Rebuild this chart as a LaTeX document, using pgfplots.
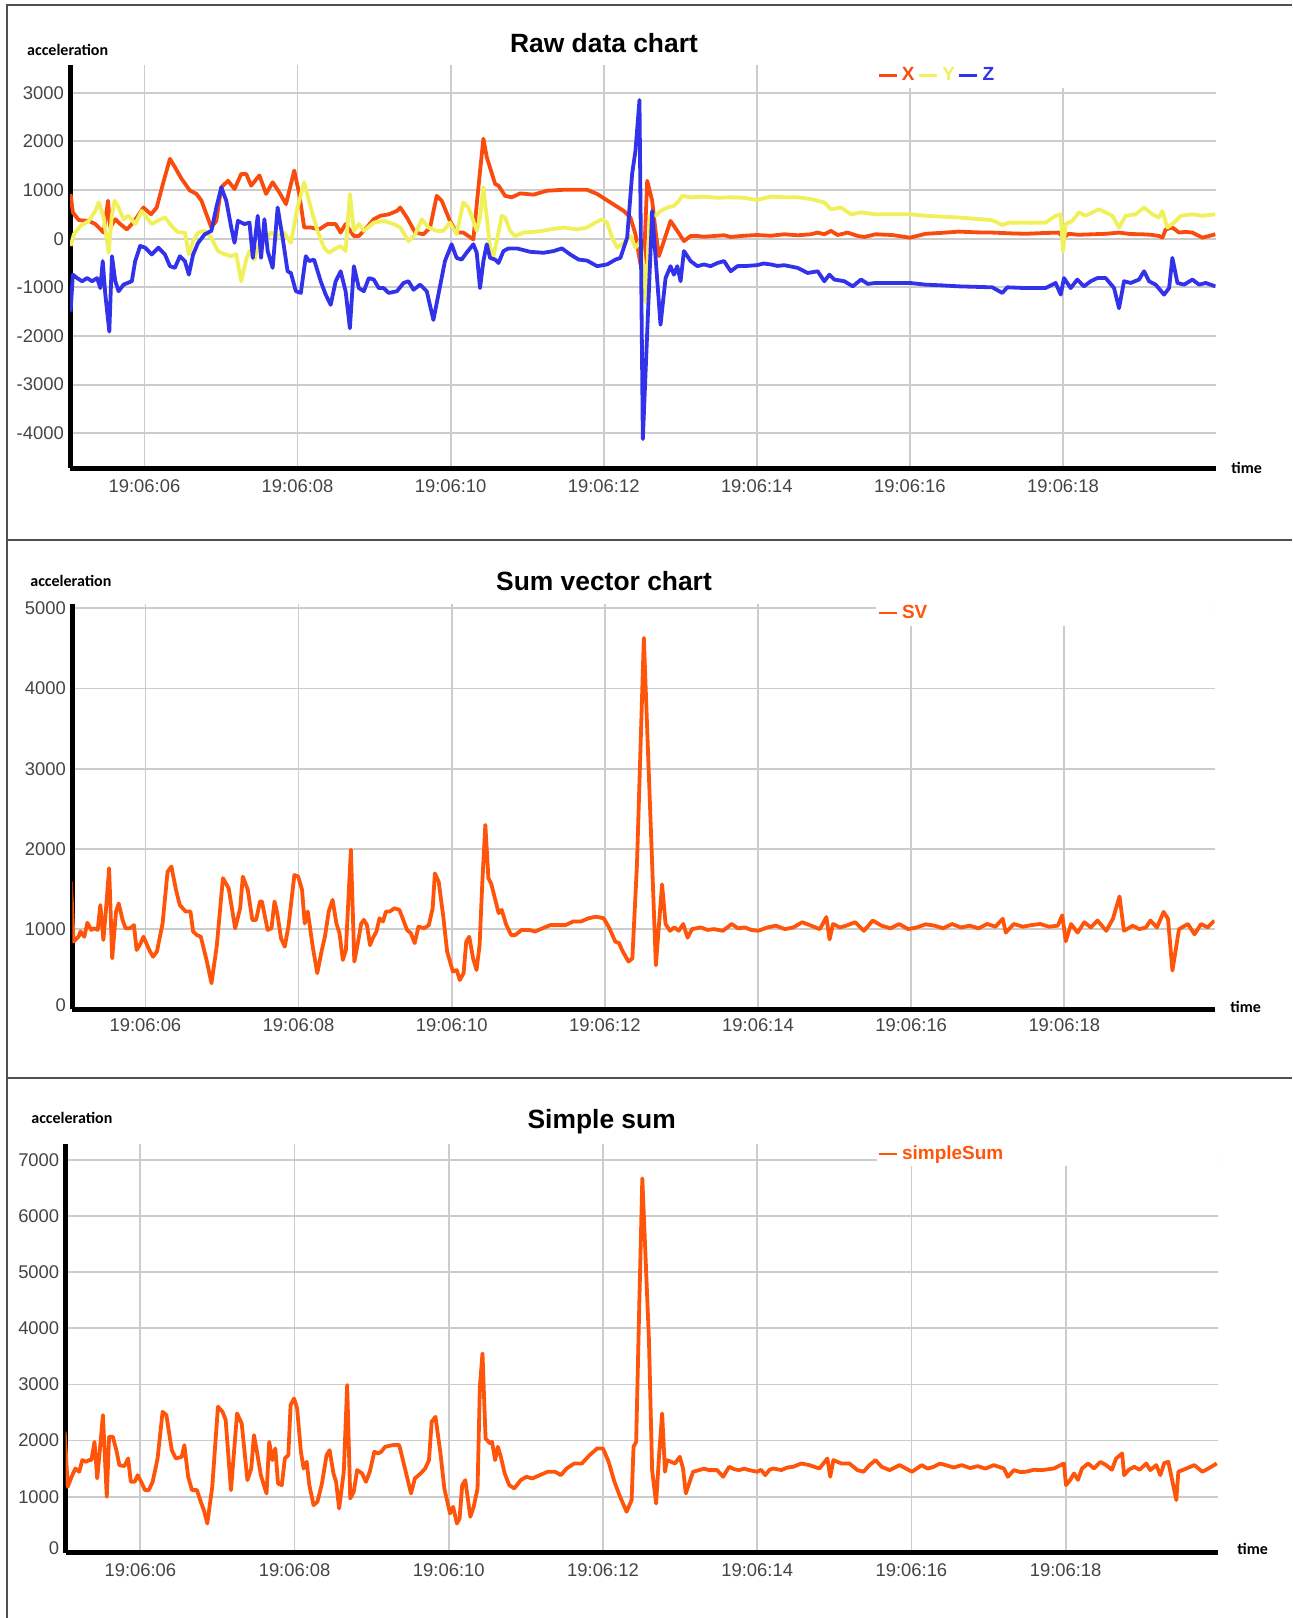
\documentclass[border=0pt]{standalone}
\usepackage{fontspec}
\setmainfont{Liberation Sans}
\newfontfamily\calib{Carlito}
\usepackage{pgfplots}
\pgfplotsset{compat=1.18}

\definecolor{cX}{RGB}{250,75,15}
\definecolor{cY}{RGB}{240,240,90}
\definecolor{cZ}{RGB}{50,50,235}
\definecolor{cS}{RGB}{255,85,10}
\definecolor{tickc}{RGB}{68,68,68}
\definecolor{gridc}{RGB}{204,204,204}
\definecolor{framec}{RGB}{80,80,80}

\pgfplotsset{
  panel/.style={
    scale only axis,
    axis lines*=left,
    axis line style={line width=2.5pt, black},
    major tick length=0pt,
    grid=major,
    grid style={gridc, line width=0.9pt},
    tick label style={font=\fontsize{9.2}{10}\selectfont, text=tickc},
    xticklabel style={anchor=north, inner sep=0pt},
    yticklabel style={anchor=east, inner sep=0pt, xshift=-3pt},
    xtick={6,8,...,18},
    xticklabels={19:06:06,19:06:08,19:06:10,19:06:12,19:06:14,19:06:16,19:06:18},
    legend style={draw=none, fill=none, inner sep=0pt, anchor=west,
      font=\fontsize{9.5}{11}\selectfont\bfseries,
      nodes={inner sep=1pt},
      /tikz/every odd column/.append style={column sep=1pt},
      /tikz/every even column/.append style={column sep=0.5pt}},
    legend columns=-1,
    legend image code/.code={\draw[#1, line width=1.3pt] (0pt,0pt) -- (9pt,0pt);},
    every axis plot/.append style={line width=1.9pt, line join=round},
  },
}

\begin{document}
\begin{tikzpicture}
\path[use as bounding box] (0pt,0pt) rectangle (646pt,-809pt);

% panel frames
\draw[framec, line width=0.75pt] (3.5pt,-809pt) -- (3.5pt,-2.5pt) -- (646pt,-2.5pt);
\draw[framec, line width=0.75pt] (3.5pt,-270pt) -- (646pt,-270pt);
\draw[framec, line width=0.75pt] (3.5pt,-539pt) -- (646pt,-539pt);

% ---------------- Raw data chart ----------------
\begin{axis}[panel,
  at={(35.1pt,-234pt)}, anchor=south west,
  width=572.75pt, height=201.5pt,
  xmin=5.03, xmax=19.995, ymin=-4713, ymax=3569,
  ytick={-4000,-3000,-2000,-1000,0,1000,2000,3000},
  yticklabels={-4000,-3000,-2000,-1000,0,1000,2000,3000},
  xticklabel style={yshift=-5.4pt},
  legend style={at={(0.7043,0.9744)}},
]
\fill[white] (rel axis cs:0.7043,0.943) rectangle (rel axis cs:1,1);
\addplot[cX] coordinates {
(5.035,917)(5.065,540)(5.143,380)(5.273,365)(5.359,300)(5.468,125)(5.524,780)(5.554,230)(5.619,400)(5.684,300)
(5.771,190)(5.835,300)(5.900,435)(5.987,640)(6.087,500)(6.160,640)(6.247,1160)(6.333,1640)(6.398,1470)(6.485,1230)
(6.593,990)(6.680,920)(6.745,780)(6.810,500)(6.874,230)(6.939,365)(7.004,1055)(7.091,1190)(7.177,1020)(7.264,1330)
(7.329,1330)(7.394,1090)(7.502,1300)(7.589,920)(7.675,1160)(7.762,950)(7.849,710)(7.957,1400)(8.022,920)(8.087,230)
(8.173,230)(8.281,190)(8.390,300)(8.498,300)(8.563,125)(8.628,300)(8.736,55)(8.801,55)(8.866,160)(8.996,400)
(9.082,470)(9.190,500)(9.299,570)(9.342,640)(9.429,435)(9.537,125)(9.645,90)(9.732,230)(9.818,880)(9.883,780)
(9.991,365)(10.078,125)(10.165,125)(10.297,-15)(10.363,1055)(10.428,2055)(10.472,1675)(10.581,1125)(10.625,1090)(10.712,880)
(10.799,850)(10.908,930)(11.083,905)(11.258,985)(11.476,1005)(11.782,1005)(11.913,920)(12.087,745)(12.262,570)(12.349,435)
(12.415,90)(12.480,-530)(12.524,-530)(12.568,1190)(12.633,780)(12.677,160)(12.721,-360)(12.786,-50)(12.873,365)(12.961,160)
(13.048,-50)(13.135,55)(13.223,55)(13.310,40)(13.441,55)(13.572,70)(13.659,35)(13.834,60)(14.000,75)(14.183,60)
(14.358,90)(14.533,70)(14.707,90)(14.795,125)(14.882,90)(14.969,160)(15.057,75)(15.188,125)(15.319,55)(15.406,35)
(15.551,90)(15.769,75)(16.000,20)(16.205,100)(16.420,120)(16.641,145)(16.860,130)(17.076,125)(17.300,110)(17.512,100)
(17.730,115)(17.948,125)(18.000,20)(18.078,100)(18.200,80)(18.383,90)(18.560,100)(18.732,125)(18.880,95)(19.037,90)
(19.150,80)(19.255,55)(19.298,20)(19.342,190)(19.429,230)(19.516,125)(19.600,140)(19.691,125)(19.821,20)(19.990,90)
};
\addlegendentry{\textcolor{cX}{X}}
\addplot[cY] coordinates {
(5.035,-150)(5.078,90)(5.164,260)(5.273,365)(5.359,570)(5.403,745)(5.468,435)(5.511,-50)(5.532,-290)(5.576,500)
(5.610,780)(5.662,640)(5.727,400)(5.792,470)(5.879,300)(5.965,570)(6.095,300)(6.182,380)(6.268,435)(6.355,260)
(6.442,125)(6.528,125)(6.580,-320)(6.636,-50)(6.701,125)(6.788,160)(6.874,20)(6.961,-255)(7.048,-320)(7.134,-360)
(7.199,-320)(7.264,-875)(7.329,-430)(7.372,-255)(7.437,-430)(7.480,-185)(7.567,-50)(7.654,125)(7.740,55)(7.827,125)
(7.913,-85)(8.000,640)(8.086,1160)(8.173,640)(8.260,160)(8.346,-185)(8.411,-290)(8.476,-220)(8.563,-150)(8.628,-255)
(8.684,920)(8.736,160)(8.801,300)(8.866,160)(8.996,330)(9.125,365)(9.255,300)(9.342,230)(9.450,-50)(9.537,90)
(9.623,400)(9.710,230)(9.818,160)(9.905,160)(9.991,330)(10.078,90)(10.165,745)(10.232,640)(10.297,365)(10.341,160)
(10.384,435)(10.428,1055)(10.472,435)(10.515,-185)(10.559,-360)(10.603,-50)(10.668,470)(10.712,435)(10.777,160)(10.843,55)
(10.952,125)(11.127,145)(11.301,190)(11.476,230)(11.651,190)(11.782,230)(11.891,330)(11.978,400)(12.044,330)(12.109,20)
(12.175,-185)(12.262,-85)(12.349,55)(12.415,-185)(12.480,-50)(12.524,-600)(12.546,-1300)(12.611,500)(12.677,470)(12.742,570)
(12.830,640)(12.917,675)(12.983,780)(13.026,880)(13.135,850)(13.310,865)(13.485,840)(13.659,850)(13.834,840)(14.000,795)
(14.183,865)(14.358,850)(14.533,850)(14.707,815)(14.882,745)(14.969,605)(15.100,640)(15.231,500)(15.362,540)(15.551,500)
(16.000,500)(16.205,470)(16.641,435)(17.076,380)(17.207,280)(17.294,330)(17.773,330)(17.904,470)(17.970,500)(18.000,-255)
(18.035,300)(18.122,365)(18.209,540)(18.296,470)(18.383,540)(18.471,605)(18.558,540)(18.645,470)(18.732,230)(18.819,470)
(18.950,500)(19.059,640)(19.168,500)(19.255,435)(19.298,570)(19.364,230)(19.451,330)(19.538,470)(19.691,500)(19.821,470)
(19.990,500)
};
\addlegendentry{\textcolor{cY}{Y}}
\addplot[cZ] coordinates {
(5.035,-1500)(5.065,-740)(5.121,-810)(5.186,-875)(5.251,-810)(5.316,-875)(5.381,-810)(5.424,-1015)(5.455,-460)(5.489,-1150)
(5.541,-1910)(5.576,-360)(5.619,-875)(5.662,-1080)(5.727,-945)(5.835,-875)(5.879,-460)(5.944,-150)(6.009,-185)(6.095,-325)
(6.182,-185)(6.268,-325)(6.333,-565)(6.398,-600)(6.463,-360)(6.528,-460)(6.580,-740)(6.636,-325)(6.701,-85)(6.788,90)
(6.874,160)(6.939,640)(7.004,1055)(7.069,780)(7.134,230)(7.177,-85)(7.221,365)(7.307,300)(7.372,330)(7.416,-395)
(7.480,470)(7.524,-395)(7.567,400)(7.610,-255)(7.675,-600)(7.740,640)(7.805,20)(7.870,-670)(7.913,-705)(7.978,-1080)
(8.043,-1115)(8.108,-360)(8.151,-460)(8.216,-430)(8.303,-875)(8.368,-1150)(8.433,-1360)(8.498,-875)(8.563,-670)(8.628,-1080)
(8.684,-1840)(8.736,-565)(8.801,-1015)(8.866,-1080)(8.931,-810)(8.996,-840)(9.061,-1015)(9.125,-1015)(9.190,-1115)(9.299,-1080)
(9.385,-910)(9.450,-875)(9.515,-1050)(9.602,-945)(9.688,-1080)(9.775,-1670)(9.840,-1150)(9.926,-460)(10.013,-115)(10.078,-395)
(10.143,-430)(10.208,-290)(10.297,-115)(10.341,-290)(10.384,-1015)(10.428,-460)(10.472,-115)(10.515,-395)(10.581,-430)(10.625,-500)
(10.690,-255)(10.756,-200)(10.865,-200)(11.039,-270)(11.214,-290)(11.345,-255)(11.454,-200)(11.563,-325)(11.673,-430)(11.782,-450)
(11.913,-565)(12.044,-530)(12.153,-430)(12.218,-395)(12.306,20)(12.371,1330)(12.415,1810)(12.467,2850)(12.511,-4120)(12.633,570)
(12.742,-1770)(12.808,-810)(12.873,-565)(12.917,-740)(12.961,-565)(13.004,-875)(13.048,-255)(13.135,-460)(13.223,-565)(13.310,-530)
(13.397,-565)(13.485,-500)(13.572,-460)(13.659,-670)(13.747,-565)(13.870,-560)(14.000,-545)(14.090,-510)(14.183,-530)(14.270,-560)
(14.358,-545)(14.533,-600)(14.664,-705)(14.795,-670)(14.882,-875)(14.948,-740)(15.013,-840)(15.144,-875)(15.253,-980)(15.362,-840)
(15.450,-930)(15.551,-910)(15.769,-910)(16.000,-910)(16.205,-945)(16.420,-960)(16.641,-980)(16.860,-990)(17.076,-1000)(17.207,-1115)
(17.272,-1000)(17.512,-1015)(17.773,-1015)(17.904,-910)(17.970,-1150)(18.013,-810)(18.100,-1015)(18.187,-840)(18.274,-980)(18.362,-875)
(18.449,-810)(18.558,-810)(18.667,-1015)(18.732,-1430)(18.797,-875)(18.885,-910)(18.993,-840)(19.059,-670)(19.124,-875)(19.211,-945)
(19.320,-1150)(19.386,-1015)(19.429,-395)(19.495,-910)(19.582,-945)(19.691,-840)(19.778,-945)(19.865,-910)(19.990,-980)
};
\addlegendentry{\textcolor{cZ}{Z}}
\end{axis}

% ---------------- Sum vector chart ----------------
\begin{axis}[panel,
  at={(36.15pt,-504.65pt)}, anchor=south west,
  width=571.2pt, height=202.9pt,
  xmin=5.045, xmax=19.964, ymin=0, ymax=5060,
  ytick={0,1000,2000,3000,4000,5000},
  yticklabels={\raisebox{4.6pt}{0},1000,2000,3000,4000,5000},
  xticklabel style={yshift=-4.45pt},
  legend style={at={(0.7044,0.9766)}},
]
\fill[white] (rel axis cs:0.7035,0.9446) rectangle (rel axis cs:1,1);
\addplot[cS] coordinates {
(5.027,1590)(5.062,845)(5.127,905)(5.152,970)(5.202,905)(5.242,1080)(5.292,990)(5.327,1010)(5.377,990)(5.411,1300)
(5.451,865)(5.486,1260)(5.526,1760)(5.566,635)(5.616,1220)(5.651,1320)(5.701,1115)(5.741,1010)(5.801,1010)(5.850,1050)
(5.885,740)(5.925,800)(5.975,905)(6.050,740)(6.100,655)(6.150,720)(6.224,1070)(6.289,1715)(6.339,1780)(6.399,1490)
(6.449,1300)(6.524,1220)(6.588,1220)(6.623,970)(6.673,925)(6.723,905)(6.798,615)(6.863,325)(6.933,800)(7.012,1635)
(7.087,1510)(7.172,1010)(7.237,1260)(7.272,1655)(7.337,1490)(7.396,1115)(7.446,1115)(7.496,1345)(7.521,1345)(7.596,990)
(7.646,1010)(7.686,1345)(7.721,1200)(7.771,885)(7.820,780)(7.870,1050)(7.945,1675)(7.995,1655)(8.045,1490)(8.080,1070)
(8.120,1220)(8.185,780)(8.244,450)(8.304,740)(8.344,905)(8.394,1220)(8.444,1365)(8.494,1070)(8.534,950)(8.578,615)
(8.618,740)(8.683,1990)(8.728,595)(8.778,845)(8.818,1070)(8.853,1115)(8.893,1050)(8.933,800)(8.968,885)(9.017,970)
(9.057,1135)(9.102,1095)(9.142,1220)(9.192,1220)(9.252,1260)(9.317,1240)(9.367,1115)(9.416,990)(9.466,950)(9.516,825)
(9.566,1030)(9.641,1010)(9.701,1050)(9.751,1260)(9.780,1695)(9.830,1590)(9.890,1155)(9.940,720)(10.015,470)(10.065,490)
(10.105,365)(10.155,450)(10.190,845)(10.229,905)(10.279,635)(10.324,490)(10.364,800)(10.399,1570)(10.439,2300)(10.479,1635)
(10.514,1570)(10.564,1385)(10.613,1200)(10.653,1240)(10.713,1050)(10.778,925)(10.828,925)(10.913,990)(11.012,990)(11.087,970)
(11.187,1010)(11.287,1050)(11.386,1050)(11.486,1050)(11.586,1095)(11.686,1095)(11.786,1135)(11.885,1155)(11.985,1135)(12.060,1010)
(12.135,845)(12.185,825)(12.234,720)(12.309,595)(12.359,635)(12.419,1800)(12.509,4630)(12.666,549)(12.747,1558)(12.793,1064)
(12.850,979)(12.908,1021)(12.965,979)(13.023,1064)(13.080,893)(13.138,1000)(13.253,1021)(13.340,990)(13.426,1000)(13.541,979)
(13.656,1064)(13.740,1010)(13.829,1021)(13.910,990)(14.001,979)(14.120,1020)(14.232,1043)(14.350,1000)(14.462,1021)(14.577,1086)
(14.692,1043)(14.807,1000)(14.893,1150)(14.934,871)(14.980,1064)(15.070,1020)(15.152,1043)(15.268,1086)(15.383,979)(15.498,1107)
(15.613,1043)(15.730,1010)(15.843,1064)(15.960,1000)(16.073,1021)(16.190,1060)(16.304,1043)(16.420,1010)(16.534,1064)(16.650,1020)
(16.764,1043)(16.880,1010)(16.994,1064)(17.100,1030)(17.196,1129)(17.236,957)(17.340,1064)(17.460,1030)(17.570,1050)(17.685,1064)
(17.800,1030)(17.915,1043)(17.973,1172)(18.019,849)(18.088,1064)(18.174,957)(18.261,1086)(18.347,1021)(18.433,1107)(18.548,979)
(18.635,1129)(18.721,1408)(18.779,979)(18.894,1043)(18.980,1000)(19.066,1021)(19.124,1107)(19.210,1021)(19.297,1215)(19.354,1129)
(19.412,484)(19.498,1000)(19.614,1064)(19.700,935)(19.786,1064)(19.872,1021)(19.960,1107)
};
\addlegendentry{\textcolor{cS}{SV}}
\end{axis}

% ---------------- Simple sum ----------------
\begin{axis}[panel,
  at={(32.8pt,-776.4pt)}, anchor=south west,
  width=575.95pt, height=204.65pt,
  xmin=5.03, xmax=19.97, ymin=0, ymax=7294,
  ytick={0,1000,2000,3000,4000,5000,6000,7000},
  yticklabels={\raisebox{4.4pt}{0},1000,2000,3000,4000,5000,6000,7000},
  xticklabel style={yshift=-5pt},
  legend style={at={(0.7044,0.9748)}},
]
\fill[white] (rel axis cs:0.7044,0.945) rectangle (rel axis cs:1,1);
\addplot[cS] coordinates {
(5.018,2157)(5.058,1176)(5.108,1355)(5.157,1503)(5.207,1444)(5.246,1652)(5.296,1622)(5.331,1652)(5.365,1652)(5.405,1978)
(5.440,1325)(5.480,1919)(5.514,2454)(5.564,998)(5.594,2068)(5.643,2068)(5.693,1800)(5.727,1563)(5.792,1545)(5.841,1681)
(5.876,1266)(5.926,1266)(5.965,1384)(6.010,1266)(6.060,1117)(6.109,1117)(6.159,1266)(6.223,1681)(6.288,2513)(6.337,2454)
(6.407,1830)(6.461,1681)(6.536,1711)(6.570,1919)(6.620,1355)(6.669,1117)(6.734,1117)(6.783,909)(6.823,761)(6.868,523)
(6.932,1176)(7.006,2603)(7.066,2513)(7.106,2365)(7.175,1117)(7.254,2484)(7.314,2305)(7.388,1295)(7.438,1503)(7.473,2098)
(7.512,1800)(7.562,1384)(7.636,1058)(7.671,1978)(7.711,1652)(7.750,1860)(7.785,1236)(7.834,1206)(7.874,1681)(7.919,1741)
(7.948,2633)(7.993,2751)(8.033,2573)(8.082,1800)(8.117,1503)(8.157,1622)(8.191,1206)(8.246,850)(8.296,909)(8.355,1236)
(8.415,1741)(8.454,1830)(8.504,1414)(8.538,1266)(8.578,790)(8.638,1444)(8.682,2989)(8.722,969)(8.767,1087)(8.811,1474)
(8.876,1414)(8.925,1266)(8.975,1444)(9.034,1800)(9.084,1771)(9.123,1800)(9.173,1889)(9.272,1919)(9.357,1919)(9.421,1563)
(9.510,1058)(9.560,1325)(9.634,1414)(9.694,1503)(9.743,1652)(9.778,2335)(9.827,2424)(9.892,1771)(9.942,1147)(10.016,701)
(10.056,820)(10.105,523)(10.140,612)(10.174,1206)(10.214,1295)(10.279,642)(10.323,820)(10.373,1147)(10.403,2959)(10.437,3553)
(10.477,2038)(10.536,1949)(10.561,1978)(10.601,1652)(10.636,1889)(10.675,1711)(10.725,1414)(10.784,1206)(10.849,1147)(10.933,1295)
(11.007,1355)(11.082,1325)(11.181,1384)(11.280,1444)(11.379,1444)(11.454,1384)(11.528,1503)(11.627,1592)(11.726,1592)(11.826,1741)
(11.925,1860)(12.000,1860)(12.073,1622)(12.148,1266)(12.222,998)(12.306,731)(12.371,939)(12.396,1889)(12.430,1978)(12.470,4385)
(12.510,6673)(12.596,3791)(12.637,1474)(12.689,879)(12.726,1711)(12.767,2484)(12.804,1444)(12.830,1652)(12.934,1592)(12.996,1711)
(13.038,1503)(13.074,1058)(13.168,1444)(13.246,1474)(13.310,1500)(13.376,1474)(13.480,1474)(13.558,1355)(13.636,1533)(13.700,1490)
(13.766,1474)(13.830,1500)(13.896,1474)(14.000,1444)(14.050,1480)(14.104,1384)(14.160,1480)(14.208,1503)(14.312,1474)(14.390,1520)
(14.468,1533)(14.572,1592)(14.676,1563)(14.806,1503)(14.910,1681)(14.947,1355)(14.988,1652)(15.092,1592)(15.196,1592)(15.300,1474)
(15.378,1444)(15.456,1563)(15.535,1652)(15.613,1533)(15.717,1474)(15.847,1563)(16.008,1444)(16.133,1563)(16.210,1500)(16.289,1533)
(16.370,1590)(16.445,1563)(16.550,1520)(16.653,1563)(16.760,1510)(16.861,1545)(16.960,1500)(17.069,1563)(17.199,1503)(17.251,1355)
(17.329,1474)(17.410,1440)(17.485,1444)(17.590,1480)(17.693,1474)(17.849,1503)(17.979,1592)(18.005,1206)(18.060,1300)(18.109,1414)
(18.160,1300)(18.213,1503)(18.291,1592)(18.369,1503)(18.450,1620)(18.525,1563)(18.600,1480)(18.655,1681)(18.733,1771)(18.759,1384)
(18.820,1480)(18.890,1533)(18.960,1480)(19.046,1592)(19.098,1474)(19.176,1563)(19.228,1384)(19.280,1600)(19.332,1622)(19.436,939)
(19.462,1444)(19.566,1503)(19.670,1563)(19.774,1444)(19.852,1503)(19.960,1592)
};
\addlegendentry{\textcolor{cS}{simpleSum}}
\end{axis}

% titles and axis captions
\node[font=\fontsize{13.2}{15}\selectfont\bfseries] at (302pt,-21.65pt) {Raw data chart};
\node[font=\fontsize{13.2}{15}\selectfont\bfseries] at (302pt,-290.5pt) {Sum vector chart};
\node[font=\fontsize{13.2}{15}\selectfont\bfseries] at (300.85pt,-560.9pt) {Simple sum};

\node[anchor=west, inner sep=0pt, font=\calib\bfseries\fontsize{8}{9}\selectfont] at (13.4pt,-24.75pt) {acceleration};
\node[anchor=west, inner sep=0pt, font=\calib\bfseries\fontsize{8}{9}\selectfont] at (15pt,-290.5pt) {acceleration};
\node[anchor=west, inner sep=0pt, font=\calib\bfseries\fontsize{8}{9}\selectfont] at (15.5pt,-558.8pt) {acceleration};

\node[anchor=west, inner sep=0pt, font=\calib\bfseries\fontsize{8}{9}\selectfont] at (615.5pt,-233.75pt) {time};
\node[anchor=west, inner sep=0pt, font=\calib\bfseries\fontsize{8}{9}\selectfont] at (615pt,-503.5pt) {time};
\node[anchor=west, inner sep=0pt, font=\calib\bfseries\fontsize{8}{9}\selectfont] at (618.5pt,-774.5pt) {time};
\end{tikzpicture}
\end{document}
